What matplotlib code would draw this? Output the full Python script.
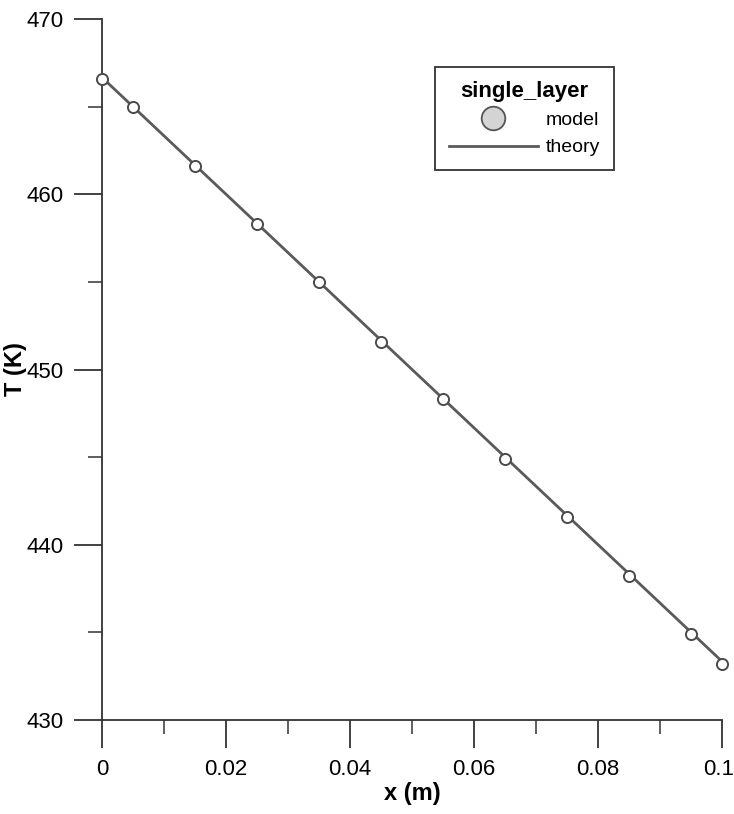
import matplotlib
matplotlib.use("Agg")
import matplotlib.pyplot as plt
import matplotlib.transforms as mtransforms
from matplotlib.lines import Line2D
from matplotlib.ticker import MultipleLocator

plt.rcParams["font.family"] = ["Liberation Sans", "DejaVu Sans"]

# model points
x_model = [0.0, 0.005, 0.015, 0.025, 0.035, 0.045, 0.055, 0.065, 0.075, 0.085, 0.095, 0.1]
t_model = [466.6, 465.0, 461.6, 458.3, 455.0, 451.6, 448.3, 444.9, 441.6, 438.2, 434.9, 433.2]

# theory line (straight, end points)
x_theory = [0.0, 0.1]
t_theory = [466.67, 433.33]

x_ticks = [0, 0.02, 0.04, 0.06, 0.08, 0.1]
x_ticklabels = ["0", "0.02", "0.04", "0.06", "0.08", "0.1"]

LINE_COL = "#5a5a5a"


def main():
    fig = plt.figure(figsize=(7.34, 8.14), dpi=100)
    ax = fig.add_axes([0.139, 0.1155, 0.845, 0.861])

    ax.plot(x_theory, t_theory, color=LINE_COL, lw=2.0, zorder=2)
    ax.plot(x_model, t_model, ls="none", marker="o", ms=8,
            mfc="white", mec="#4a4a4a", mew=1.4, zorder=3, clip_on=False)

    ax.set_xlim(0, 0.1)
    ax.set_ylim(430, 470)

    ax.set_xticks(x_ticks)
    ax.set_xticklabels(x_ticklabels)
    ax.xaxis.set_minor_locator(MultipleLocator(0.01))
    ax.yaxis.set_major_locator(MultipleLocator(10))
    ax.yaxis.set_minor_locator(MultipleLocator(5))

    for side in ("top", "right"):
        ax.spines[side].set_visible(False)
    for side in ("left", "bottom"):
        ax.spines[side].set_color("#333333")
        ax.spines[side].set_linewidth(1.3)

    ax.tick_params(which="major", direction="out", length=20, width=1.3,
                   color="#333333", labelsize=16, pad=8)
    ax.tick_params(which="minor", direction="out", length=10, width=1.1,
                   color="#333333")

    # last label sits on the figure edge; nudge it in a little
    last = ax.get_xticklabels()[-1]
    last.set_transform(last.get_transform()
                       + mtransforms.ScaledTranslation(-4 / 100, 0, fig.dpi_scale_trans))

    ax.set_xlabel("x (m)", fontsize=17, fontweight="bold")
    ax.set_ylabel("T (K)", fontsize=17, fontweight="bold")
    ax.xaxis.set_label_coords(0.5, -0.088)
    ax.yaxis.set_label_coords(-0.121, 0.5)

    handles = [
        Line2D([], [], ls="none", marker="o", ms=17, mfc="#d4d4d4",
               mec="#555555", mew=1.3),
        Line2D([], [], color=LINE_COL, lw=2.0),
    ]
    leg = ax.legend(handles, ["model", "theory"], title="single_layer",
                    loc="upper left", bbox_to_anchor=(0.537, 0.9315),
                    fontsize=14, handlelength=4.6, handletextpad=0.4,
                    borderpad=0.7, labelspacing=0.5, borderaxespad=0,
                    fancybox=False, framealpha=1, edgecolor="#333333")
    leg.get_title().set_fontweight("bold")
    leg.get_title().set_fontsize(16)
    leg.get_frame().set_linewidth(1.3)

    fig.savefig("out.png", dpi=100)


if __name__ == "__main__":
    main()
